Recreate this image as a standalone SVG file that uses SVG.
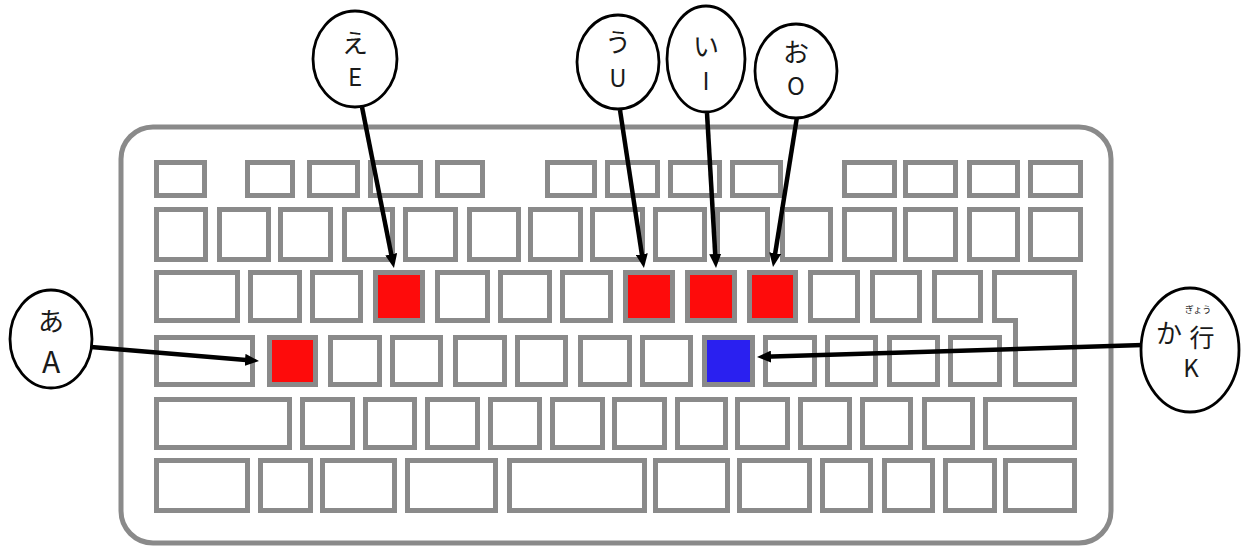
<svg xmlns="http://www.w3.org/2000/svg" width="1242" height="546" viewBox="0 0 1242 546">
<defs>
<style>
.k{fill:#fff;stroke:#8a8a8a;stroke-width:5}
.r{fill:#fe0b0b;stroke:#8a8a8a;stroke-width:5}
.b{fill:#2a20f0;stroke:#8a8a8a;stroke-width:5}
.frame{fill:#fff;stroke:#8a8a8a;stroke-width:5}
.bub{fill:#fff;stroke:#000;stroke-width:2.8}
.t{font-family:"Noto Sans CJK JP","Noto Sans",sans-serif;font-size:26px;fill:#1a1a1a;text-anchor:middle}
.l{font-family:"Noto Sans CJK JP","Noto Sans",sans-serif;font-size:24px;fill:#1a1a1a;text-anchor:middle}
.ruby{font-family:"Noto Sans CJK JP",sans-serif;font-size:9px;fill:#1a1a1a;text-anchor:middle}
.c{stroke:#000;stroke-width:4.5;fill:none;marker-end:url(#ah)}
</style>
<marker id="ah" viewBox="0 0 14 12" markerWidth="14" markerHeight="12" markerUnits="userSpaceOnUse" refX="7" refY="6" orient="auto">
<path d="M0,0 L14,6 L0,12 z" fill="#000"/>
</marker>
</defs>
<rect width="1242" height="546" fill="#fff"/>
<g id="keyboard">
<rect class="frame" x="121" y="127" width="990" height="416" rx="32"/>
<g id="row1">
<rect class="k" x="156.5" y="162.5" width="48" height="33"/>
<rect class="k" x="247.5" y="162.5" width="45" height="33"/>
<rect class="k" x="309.5" y="162.5" width="48" height="33"/>
<rect class="k" x="370.5" y="162.5" width="50" height="33"/>
<rect class="k" x="437.5" y="162.5" width="45" height="33"/>
<rect class="k" x="547.5" y="162.5" width="47" height="33"/>
<rect class="k" x="607.5" y="162.5" width="50" height="33"/>
<rect class="k" x="670.5" y="162.5" width="49" height="33"/>
<rect class="k" x="732.5" y="162.5" width="48" height="33"/>
<rect class="k" x="844.5" y="162.5" width="50" height="33"/>
<rect class="k" x="905.5" y="162.5" width="50" height="33"/>
<rect class="k" x="969.5" y="162.5" width="48" height="33"/>
<rect class="k" x="1030.5" y="162.5" width="50" height="33"/>
</g>
<g id="row2">
<rect class="k" x="156.5" y="209.5" width="49" height="50"/>
<rect class="k" x="219.5" y="209.5" width="49" height="50"/>
<rect class="k" x="280.5" y="209.5" width="50" height="50"/>
<rect class="k" x="344.5" y="209.5" width="48" height="50"/>
<rect class="k" x="405.5" y="209.5" width="50" height="50"/>
<rect class="k" x="469.5" y="209.5" width="49" height="50"/>
<rect class="k" x="530.5" y="209.5" width="50" height="50"/>
<rect class="k" x="592.5" y="209.5" width="50" height="50"/>
<rect class="k" x="655.5" y="209.5" width="49" height="50"/>
<rect class="k" x="717.5" y="209.5" width="50" height="50"/>
<rect class="k" x="782.5" y="209.5" width="48" height="50"/>
<rect class="k" x="844.5" y="209.5" width="50" height="50"/>
<rect class="k" x="905.5" y="209.5" width="50" height="50"/>
<rect class="k" x="969.5" y="209.5" width="48" height="50"/>
<rect class="k" x="1030.5" y="209.5" width="50" height="50"/>
</g>
<g id="row3">
<rect class="k" x="156.5" y="272.5" width="81" height="48"/>
<rect class="k" x="250.5" y="272.5" width="49" height="48"/>
<rect class="k" x="312.5" y="272.5" width="48" height="48"/>
<rect id="key-e" class="r" x="375.5" y="272.5" width="47" height="48"/>
<rect class="k" x="437.5" y="272.5" width="50" height="48"/>
<rect class="k" x="500.5" y="272.5" width="49" height="48"/>
<rect class="k" x="562.5" y="272.5" width="48" height="48"/>
<rect id="key-u" class="r" x="625.5" y="272.5" width="47" height="48"/>
<rect id="key-i" class="r" x="687.5" y="272.5" width="47" height="48"/>
<rect id="key-o" class="r" x="749.5" y="272.5" width="46" height="48"/>
<rect class="k" x="810.5" y="272.5" width="47" height="48"/>
<rect class="k" x="872.5" y="272.5" width="47" height="48"/>
<rect class="k" x="934.5" y="272.5" width="46" height="48"/>
<path id="key-enter" class="k" d="M994.5,272.5 H1074.5 V384.5 H1015.5 V320.5 H994.5 Z"/>
</g>
<g id="row4">
<rect class="k" x="156.5" y="337.5" width="96" height="47"/>
<rect id="key-a" class="r" x="269.5" y="337.5" width="46" height="47"/>
<rect class="k" x="330.5" y="337.5" width="49" height="47"/>
<rect class="k" x="392.5" y="337.5" width="48" height="47"/>
<rect class="k" x="455.5" y="337.5" width="49" height="47"/>
<rect class="k" x="517.5" y="337.5" width="48" height="47"/>
<rect class="k" x="580.5" y="337.5" width="49" height="47"/>
<rect class="k" x="642.5" y="337.5" width="48" height="47"/>
<rect id="key-k" class="b" x="704.5" y="337.5" width="48" height="47"/>
<rect class="k" x="765.5" y="337.5" width="49" height="47"/>
<rect class="k" x="827.5" y="337.5" width="48" height="47"/>
<rect class="k" x="889.5" y="337.5" width="48" height="47"/>
<rect class="k" x="950.5" y="337.5" width="49" height="47"/>
</g>
<g id="row5">
<rect class="k" x="156.5" y="399.5" width="133" height="48"/>
<rect class="k" x="302.5" y="399.5" width="50" height="48"/>
<rect class="k" x="365.5" y="399.5" width="49" height="48"/>
<rect class="k" x="427.5" y="399.5" width="50" height="48"/>
<rect class="k" x="490.5" y="399.5" width="49" height="48"/>
<rect class="k" x="552.5" y="399.5" width="50" height="48"/>
<rect class="k" x="614.5" y="399.5" width="50" height="48"/>
<rect class="k" x="677.5" y="399.5" width="48" height="48"/>
<rect class="k" x="737.5" y="399.5" width="50" height="48"/>
<rect class="k" x="800.5" y="399.5" width="49" height="48"/>
<rect class="k" x="862.5" y="399.5" width="48" height="48"/>
<rect class="k" x="924.5" y="399.5" width="48" height="48"/>
<rect class="k" x="985.5" y="399.5" width="89" height="48"/>
</g>
<g id="row6">
<rect class="k" x="156.5" y="460.5" width="91" height="50"/>
<rect class="k" x="260.5" y="460.5" width="50" height="50"/>
<rect class="k" x="322.5" y="460.5" width="72" height="50"/>
<rect class="k" x="407.5" y="460.5" width="88" height="50"/>
<rect class="k" x="509.5" y="460.5" width="135" height="50"/>
<rect class="k" x="655.5" y="460.5" width="72" height="50"/>
<rect class="k" x="739.5" y="460.5" width="70" height="50"/>
<rect class="k" x="822.5" y="460.5" width="48" height="50"/>
<rect class="k" x="884.5" y="460.5" width="48" height="50"/>
<rect class="k" x="945.5" y="460.5" width="49" height="50"/>
<rect class="k" x="1005.5" y="460.5" width="69" height="50"/>
</g>
</g>
<g id="connectors">
<line class="c" x1="362" y1="107" x2="392.6" y2="261.1"/>
<line class="c" x1="620" y1="110" x2="642.9" y2="261.1"/>
<line class="c" x1="707" y1="113" x2="715.6" y2="261.0"/>
<line class="c" x1="797" y1="117" x2="774.1" y2="260.1"/>
<line class="c" x1="91" y1="347" x2="252.0" y2="360.4"/>
<line class="c" x1="1143" y1="345" x2="764.0" y2="356.8"/>
</g>
<g id="bubble-e">
<ellipse class="bub" cx="355" cy="59" rx="42" ry="48"/>
<text class="t" x="355" y="53">え</text>
<text class="l" x="355" y="86">E</text>
</g>
<g id="bubble-u">
<ellipse class="bub" cx="618" cy="62" rx="41" ry="47"/>
<text class="t" x="618" y="52">う</text>
<text class="l" x="618" y="87">U</text>
</g>
<g id="bubble-i">
<ellipse class="bub" cx="706" cy="59" rx="39" ry="53"/>
<text class="t" x="706" y="56">い</text>
<text class="l" x="706" y="90">I</text>
</g>
<g id="bubble-o">
<ellipse class="bub" cx="796" cy="71" rx="41" ry="47"/>
<text class="t" x="796" y="62">お</text>
<text class="l" x="796" y="95">O</text>
</g>
<g id="bubble-a">
<ellipse class="bub" cx="51" cy="339" rx="41" ry="49"/>
<text class="t" x="51" y="331">あ</text>
<text class="l" x="51" y="373" style="font-size:30px">A</text>
</g>
<g id="bubble-ka">
<ellipse class="bub" cx="1190" cy="350" rx="49" ry="62"/>
<text class="t" x="1169" y="343">か</text>
<text class="t" x="1202" y="347" style="font-size:25px">行</text>
<text class="ruby" x="1198" y="313">ぎょう</text>
<text class="l" x="1191" y="377">K</text>
</g>
</svg>
